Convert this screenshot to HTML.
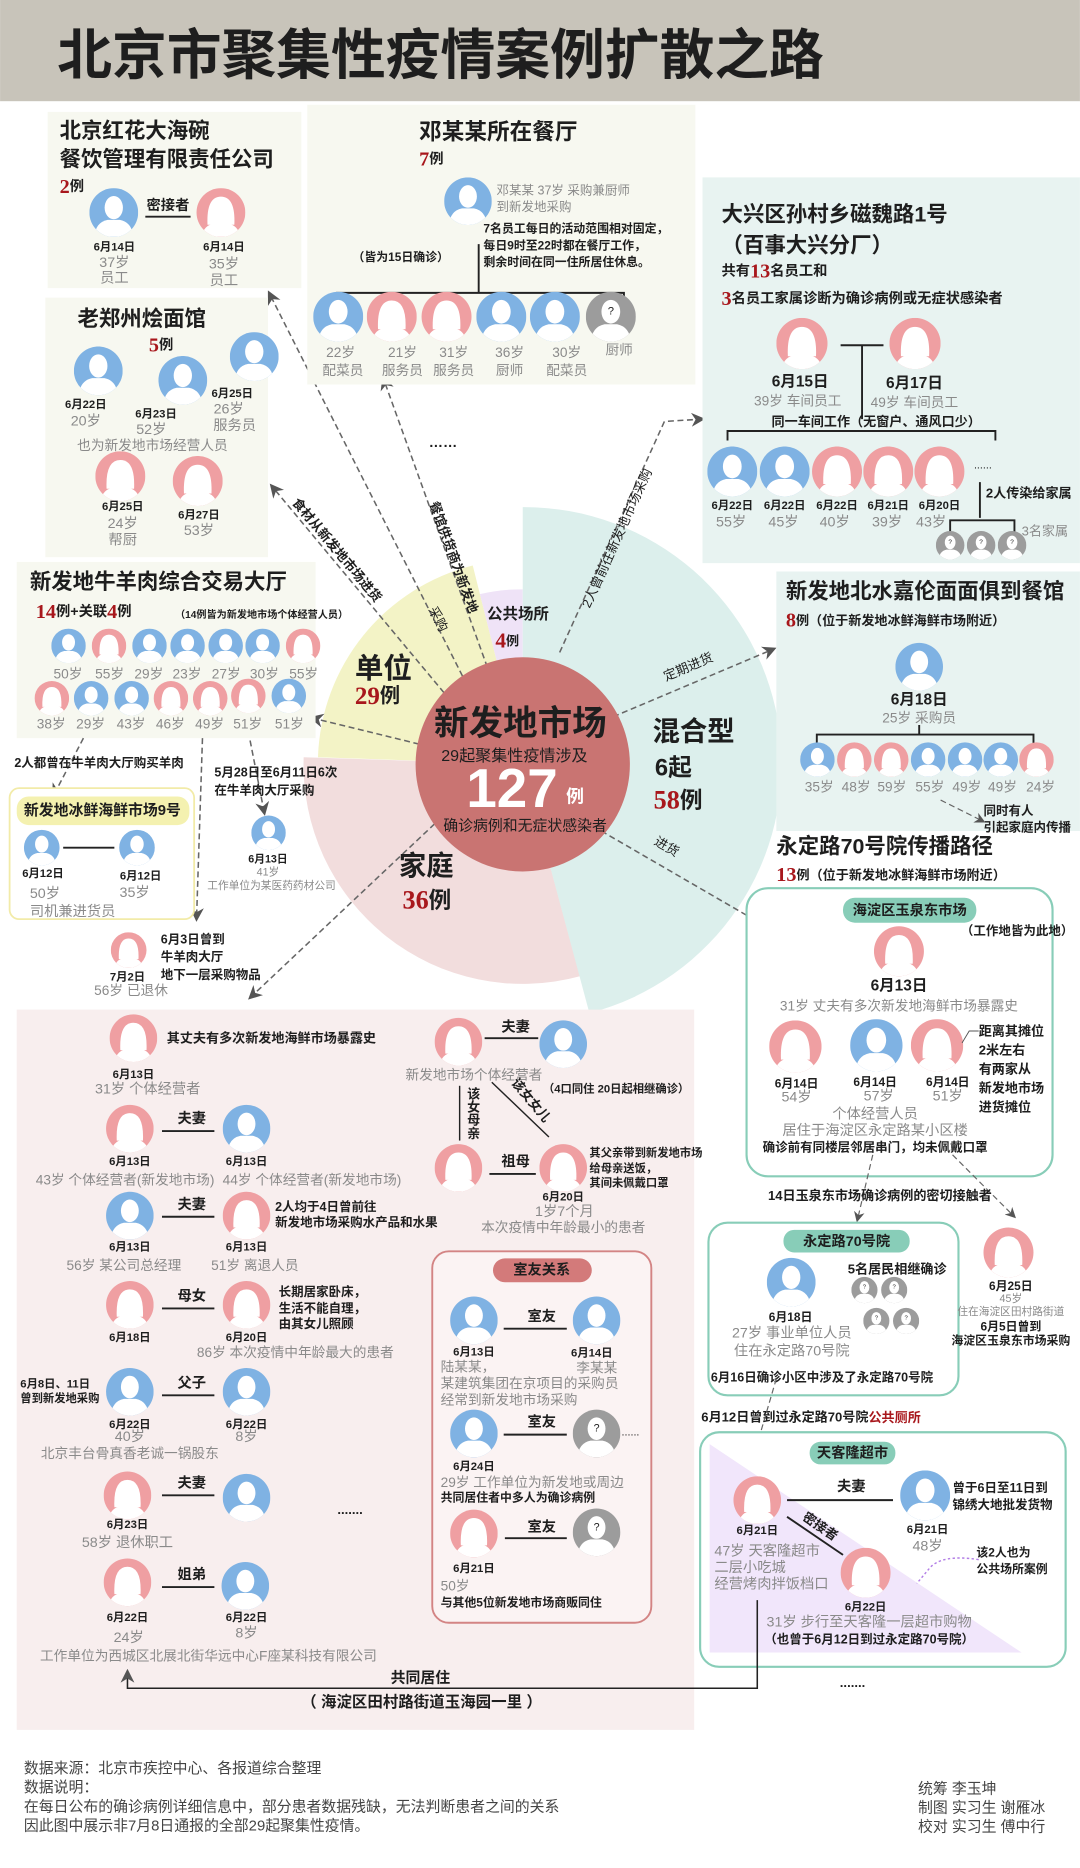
<!DOCTYPE html>
<html><head><meta charset="utf-8">
<style>
html,body{margin:0;padding:0;background:#fff;}
svg{display:block;}
text{font-family:"Liberation Sans","Noto Sans CJK SC",sans-serif;dominant-baseline:central;fill:#1e1e1e;}
.b{font-weight:bold;}
.g{fill:#8a8a8a;}
.c{text-anchor:middle;}
.r{fill:#a8171c;font-family:"Liberation Serif","Noto Serif CJK SC",serif;font-weight:bold;}
.w{fill:#fff;}
.dash{stroke:#666;stroke-width:1.3;stroke-dasharray:5,3;fill:none;}
.ln{stroke:#222;stroke-width:1.6;fill:none;}
</style></head><body>
<svg width="1080" height="1868" viewBox="0 0 907 1569" xmlns="http://www.w3.org/2000/svg">
<defs>
<clipPath id="cc"><circle cx="20" cy="20" r="20"/></clipPath>
<symbol id="m" viewBox="0 0 40 40"><circle cx="20" cy="20" r="20" fill="#7fb2e3"/><g clip-path="url(#cc)" fill="#fff"><ellipse cx="20" cy="16" rx="7.5" ry="9.5"/><path d="M4,40 Q5,28 15,26 L25,26 Q35,28 36,40Z"/></g></symbol>
<symbol id="f" viewBox="0 0 40 40"><circle cx="20" cy="20" r="20" fill="#ef9fa2"/><g clip-path="url(#cc)" fill="#fff"><path d="M9,30 Q8,7 20,7 Q32,7 31,30Z"/><path d="M4,40 Q6,30 15,29 L25,29 Q34,30 36,40Z"/></g></symbol>
<symbol id="q" viewBox="0 0 40 40"><circle cx="20" cy="20" r="20" fill="#9c9c9c"/><g clip-path="url(#cc)" fill="#fff"><ellipse cx="20" cy="16" rx="7.5" ry="9.5"/><path d="M4,40 Q5,28 15,26 L25,26 Q35,28 36,40Z"/></g><text x="20" y="16" font-size="9" text-anchor="middle" fill="#888">?</text></symbol>
<marker id="ar" viewBox="0 0 10 10" refX="8" refY="5" markerWidth="9" markerHeight="9" orient="auto-start-reverse"><path d="M0,0 L10,5 L0,10 L3,5Z" fill="#555"/></marker>
</defs>

<!-- title -->
<rect x="0" y="0" width="907" height="85" fill="#c8c4ba"/>
<text x="48" y="46" class="b" font-size="46">北京市聚集性疫情案例扩散之路</text>

<!-- pie -->
<path d="M439,642 L487,820 A184,184 0 0 1 255,636Z" fill="#f2dddd"/>
<path d="M439,642 L267,636 A172,172 0 0 1 397,475Z" fill="#f3f3c6"/>
<path d="M439,642 L403,499 A147,147 0 0 1 439,495Z" fill="#efe3f7"/>
<path d="M439,642 L439,426 A216,216 0 0 1 495,851Z" fill="#dcefec"/>

<!-- dashed arrows -->
<path class="dash" d="M378,588 L228,408" marker-end="url(#ar)"/>
<path class="dash" d="M392,575 L226,246" marker-end="url(#ar)"/>
<path class="dash" d="M412,568 L322,318" marker-end="url(#ar)"/>
<path class="dash" d="M470,548 L558,354 L590,352" marker-end="url(#ar)"/>
<path class="dash" d="M515,602 L650,545" marker-end="url(#ar)"/>
<path class="dash" d="M505,698 L655,785" marker-end="url(#ar)"/>
<path class="dash" d="M352,625 L262,603" marker-end="url(#ar)"/>
<path class="dash" d="M365,692 L210,838" marker-end="url(#ar)"/>

<circle cx="439" cy="642" r="90" fill="#c97472"/>
<text x="437" y="608" class="b c" font-size="29">新发地市场</text>
<text x="432" y="635" class="c" font-size="13.5">29起聚集性疫情涉及</text>
<text x="430" y="662" class="b c w" font-size="46">127</text>
<text x="483" y="669" class="b c w" font-size="15">例</text>
<text x="441" y="694" class="c" font-size="12.5">确诊病例和无症状感染者</text>

<text x="298" y="562" class="b" font-size="24">单位</text>
<text x="298" y="585" class="r" font-size="21">29<tspan font-size="17" fill="#1e1e1e" font-family="Liberation Sans,Noto Sans CJK SC,sans-serif">例</tspan></text>
<text x="409" y="516" class="b" font-size="13">公共场所</text>
<text x="416" y="538" class="r" font-size="18">4<tspan font-size="11" fill="#1e1e1e" font-family="Liberation Sans,Noto Sans CJK SC,sans-serif">例</tspan></text>
<text x="548" y="614" class="b" font-size="23">混合型</text>
<text x="550" y="645" class="b" font-size="20">6起</text>
<text x="549" y="672" class="r" font-size="22">58<tspan font-size="19" fill="#1e1e1e" font-family="Liberation Sans,Noto Sans CJK SC,sans-serif">例</tspan></text>
<text x="335" y="727" class="b" font-size="23">家庭</text>
<text x="338" y="756" class="r" font-size="22">36<tspan font-size="19" fill="#1e1e1e" font-family="Liberation Sans,Noto Sans CJK SC,sans-serif">例</tspan></text>

<text transform="translate(283,462) rotate(50)" class="b c" font-size="11">食材从新发地市场进货</text>
<text transform="translate(368,520) rotate(63)" class="c" font-size="11">采购</text>
<text transform="translate(381,468) rotate(70)" class="b c" font-size="11">餐馆供货商为新发地</text>
<text transform="translate(518,452) rotate(-65.6)" class="c" font-size="11">2人曾前往新发地市场采购</text>
<text transform="translate(578,560) rotate(-23)" class="c" font-size="11">定期进货</text>
<text transform="translate(560,711) rotate(30)" class="c" font-size="11">进货</text>
<text x="372" y="372" class="b c" font-size="12">……</text>

<!-- box1 -->
<rect x="40" y="94" width="213" height="148" fill="#f7f8f0"/>
<text x="50" y="110" class="b" font-size="18">北京红花大海碗</text>
<text x="50" y="134" class="b" font-size="18">餐饮管理有限责任公司</text>
<text x="50" y="157" class="r" font-size="17">2<tspan font-size="12" fill="#1e1e1e" font-family="Liberation Sans,Noto Sans CJK SC,sans-serif">例</tspan></text>
<use href="#m" x="75" y="158" width="41" height="41"/>
<use href="#f" x="165" y="158" width="41" height="41"/>
<text x="141" y="173" class="b c" font-size="12">密接者</text>
<line x1="122" y1="182" x2="160" y2="182" class="ln"/>
<text x="96" y="208" class="b c" font-size="9.5">6月14日</text><text x="96" y="221" class="g c" font-size="12">37岁</text><text x="96" y="234" class="g c" font-size="12">员工</text>
<text x="188" y="208" class="b c" font-size="9.5">6月14日</text><text x="188" y="222" class="g c" font-size="12">35岁</text><text x="188" y="236" class="g c" font-size="12">员工</text>

<!-- box2 -->
<rect x="258" y="88" width="326" height="235" fill="#f7f8f0"/>
<text x="352" y="111" class="b" font-size="19">邓某某所在餐厅</text>
<text x="352" y="134" class="r" font-size="17">7<tspan font-size="12" fill="#1e1e1e" font-family="Liberation Sans,Noto Sans CJK SC,sans-serif">例</tspan></text>
<use href="#m" x="373" y="149" width="40" height="40"/>
<text x="417" y="160" class="g" font-size="10.5">邓某某 37岁 采购兼厨师</text>
<text x="417" y="174" class="g" font-size="10.5">到新发地采购</text>
<text x="406" y="192" class="b" font-size="10">7名员工每日的活动范围相对固定，</text>
<text x="406" y="206" class="b" font-size="10">每日9时至22时都在餐厅工作，</text>
<text x="406" y="220" class="b" font-size="10">剩余时间在同一住所居住休息。</text>
<text x="296" y="216" class="b" font-size="10">（皆为15日确诊）</text>
<path class="ln" d="M402,205 L402,246 M283,256 L283,246 L524,246 L524,256"/>
<use href="#m" x="263" y="245" width="42" height="42"/>
<use href="#f" x="308" y="245" width="42" height="42"/>
<use href="#f" x="354" y="245" width="42" height="42"/>
<use href="#m" x="400" y="245" width="42" height="42"/>
<use href="#m" x="445" y="245" width="42" height="42"/>
<use href="#q" x="492" y="245" width="42" height="42"/>
<g class="g c" font-size="11.5">
<text x="286" y="296" class="g c">22岁</text><text x="338" y="296" class="g c">21岁</text><text x="381" y="296" class="g c">31岁</text><text x="428" y="296" class="g c">36岁</text><text x="476" y="296" class="g c">30岁</text><text x="520" y="294" class="g c">厨师</text>
<text x="288" y="311" class="g c">配菜员</text><text x="338" y="311" class="g c">服务员</text><text x="381" y="311" class="g c">服务员</text><text x="428" y="311" class="g c">厨师</text><text x="476" y="311" class="g c">配菜员</text>
</g>

<!-- box3 -->
<rect x="38" y="250" width="187" height="218" fill="#f7f8f0"/>
<text x="65" y="268" class="b" font-size="18">老郑州烩面馆</text>
<text x="125" y="290" class="r" font-size="17">5<tspan font-size="12" fill="#1e1e1e" font-family="Liberation Sans,Noto Sans CJK SC,sans-serif">例</tspan></text>
<use href="#m" x="62" y="291" width="41" height="41"/>
<use href="#m" x="133" y="299" width="41" height="41"/>
<use href="#m" x="193" y="279" width="41" height="41"/>
<text x="72" y="340" class="b c" font-size="9.5">6月22日</text><text x="72" y="354" class="g c" font-size="12">20岁</text>
<text x="131" y="348" class="b c" font-size="9.5">6月23日</text><text x="127" y="361" class="g c" font-size="12">52岁</text>
<text x="195" y="331" class="b c" font-size="9.5">6月25日</text><text x="192" y="344" class="g c" font-size="12">26岁</text><text x="197" y="358" class="g c" font-size="12">服务员</text>
<text x="128" y="374" class="g c" font-size="11.5">也为新发地市场经营人员</text>
<use href="#f" x="80" y="379" width="42" height="42"/>
<use href="#f" x="145" y="383" width="42" height="42"/>
<text x="103" y="426" class="b c" font-size="9.5">6月25日</text><text x="103" y="440" class="g c" font-size="12">24岁</text><text x="103" y="454" class="g c" font-size="12">帮厨</text>
<text x="167" y="433" class="b c" font-size="9.5">6月27日</text><text x="167" y="446" class="g c" font-size="12">53岁</text>

<!-- box4 -->
<rect x="590" y="149" width="317" height="324" fill="#e8f3f1"/>
<text x="606" y="180" class="b" font-size="18">大兴区孙村乡磁魏路1号</text>
<text x="606" y="206" class="b" font-size="18">（百事大兴分厂）</text>
<text x="606" y="228" class="b" font-size="12">共有<tspan class="r" font-size="17">13</tspan>名员工和</text>
<text x="606" y="251" class="b" font-size="12"><tspan class="r" font-size="17">3</tspan>名员工家属诊断为确诊病例或无症状感染者</text>
<use href="#f" x="652" y="267" width="43" height="43"/>
<use href="#f" x="747" y="267" width="43" height="43"/>
<path class="ln" d="M706,290 L742,290 M724,290 L724,352"/>
<text x="672" y="321" class="b c" font-size="13">6月15日</text><text x="670" y="337" class="g c" font-size="11.5">39岁 车间员工</text>
<text x="768" y="322" class="b c" font-size="13">6月17日</text><text x="768" y="338" class="g c" font-size="11.5">49岁 车间员工</text>
<text x="648" y="354" class="b" font-size="11">同一车间工作（无窗户、通风口少）</text>
<path class="ln" d="M611,370 L611,362 L836,362 L836,370"/>
<use href="#m" x="594" y="375" width="42" height="42"/>
<use href="#m" x="638" y="375" width="42" height="42"/>
<use href="#f" x="682" y="375" width="42" height="42"/>
<use href="#f" x="725" y="375" width="42" height="42"/>
<use href="#f" x="768" y="375" width="42" height="42"/>
<text x="818" y="391" font-size="9">......</text>
<g font-size="9.5" class="b c"><text x="615" y="425" class="b c">6月22日</text><text x="659" y="425" class="b c">6月22日</text><text x="703" y="425" class="b c">6月22日</text><text x="746" y="425" class="b c">6月21日</text><text x="789" y="425" class="b c">6月20日</text></g>
<g font-size="12"><text x="614" y="439" class="g c">55岁</text><text x="658" y="439" class="g c">45岁</text><text x="701" y="439" class="g c">40岁</text><text x="745" y="439" class="g c">39岁</text><text x="782" y="439" class="g c">43岁</text></g>
<path class="ln" d="M823,405 L823,435 M798,447 L798,437 L852,437 L852,447"/>
<text x="828" y="414" class="b" font-size="11">2人传染给家属</text>
<text x="858" y="446" class="g" font-size="11">3名家属</text>
<use href="#q" x="786" y="446" width="24" height="24"/>
<use href="#q" x="812" y="446" width="24" height="24"/>
<use href="#q" x="838" y="446" width="24" height="24"/>

<!-- box5 niuyangrou -->
<rect x="14" y="472" width="251" height="148" fill="#f7f8f0"/>
<text x="25" y="489" class="b" font-size="18">新发地牛羊肉综合交易大厅</text>
<text x="30" y="514" class="b" font-size="12"><tspan class="r" font-size="17">14</tspan>例+关联<tspan class="r" font-size="17">4</tspan>例</text>
<text x="147" y="517" class="b" font-size="8.5">（14例皆为新发地市场个体经营人员）</text>
<use href="#m" x="43" y="528" width="29" height="29"/><use href="#f" x="77" y="528" width="29" height="29"/><use href="#m" x="111" y="528" width="29" height="29"/><use href="#m" x="143" y="528" width="29" height="29"/><use href="#m" x="175" y="528" width="29" height="29"/><use href="#m" x="206" y="528" width="29" height="29"/><use href="#f" x="240" y="528" width="29" height="29"/>
<g font-size="11.5"><text x="57" y="566" class="g c">50岁</text><text x="92" y="566" class="g c">55岁</text><text x="125" y="566" class="g c">29岁</text><text x="157" y="566" class="g c">23岁</text><text x="190" y="566" class="g c">27岁</text><text x="222" y="566" class="g c">30岁</text><text x="255" y="566" class="g c">55岁</text></g>
<use href="#f" x="29" y="572" width="29" height="29"/><use href="#m" x="62" y="572" width="29" height="29"/><use href="#m" x="96" y="572" width="29" height="29"/><use href="#f" x="129" y="572" width="29" height="29"/><use href="#f" x="162" y="572" width="29" height="29"/><use href="#f" x="194" y="570" width="29" height="29"/><use href="#m" x="228" y="570" width="29" height="29"/>
<g font-size="11.5"><text x="43" y="608" class="g c">38岁</text><text x="76" y="608" class="g c">29岁</text><text x="110" y="608" class="g c">43岁</text><text x="143" y="608" class="g c">46岁</text><text x="176" y="608" class="g c">49岁</text><text x="208" y="608" class="g c">51岁</text><text x="243" y="608" class="g c">51岁</text></g>

<!-- left middle -->
<path class="dash" d="M70,620 L45,668" marker-end="url(#ar)"/>
<text x="12" y="641" class="b" font-size="10.5">2人都曾在牛羊肉大厅购买羊肉</text>
<path class="dash" d="M210,622 L222,683" marker-end="url(#ar)"/>
<path class="dash" d="M170,620 L165,772" marker-end="url(#ar)"/>
<text x="180" y="649" class="b" font-size="10.5">5月28日至6月11日6次</text>
<text x="180" y="664" class="b" font-size="10.5">在牛羊肉大厅采购</text>
<use href="#m" x="211" y="685" width="29" height="29"/>
<text x="225" y="722" class="b c" font-size="9">6月13日</text>
<text x="225" y="733" class="g c" font-size="9">41岁</text>
<text x="228" y="744" class="g c" font-size="9">工作单位为某医药药材公司</text>
<rect x="8" y="662" width="155" height="110" rx="8" fill="#fff" stroke="#f2eba8" stroke-width="1.5"/>
<rect x="14" y="669" width="145" height="24" rx="10" fill="#f4f1b0"/>
<text x="20" y="681" class="b" font-size="12.5">新发地冰鲜海鲜市场9号</text>
<use href="#m" x="20" y="695" width="30" height="34"/><use href="#m" x="100" y="695" width="30" height="34"/>
<line x1="53" y1="712" x2="96" y2="712" class="ln"/>
<text x="36" y="734" class="b c" font-size="9.5">6月12日</text><text x="25" y="751" class="g" font-size="12">50岁</text><text x="25" y="766" class="g" font-size="12">司机兼进货员</text>
<text x="118" y="736" class="b c" font-size="9.5">6月12日</text><text x="113" y="750" class="g c" font-size="12">35岁</text>
<use href="#f" x="93" y="783" width="30" height="30"/>
<text x="107" y="821" class="b c" font-size="9.5">7月2日</text>
<text x="110" y="832" class="g c" font-size="11.5">56岁 已退休</text>
<text x="135" y="789" class="b" font-size="10.5">6月3日曾到</text>
<text x="135" y="804" class="b" font-size="10.5">牛羊肉大厅</text>
<text x="135" y="819" class="b" font-size="10.5">地下一层采购物品</text>

<!-- box7 beishui -->
<rect x="652" y="480" width="255" height="218" fill="#e8f3f1"/>
<text x="660" y="497" class="b" font-size="18">新发地北水嘉伦面面俱到餐馆</text>
<text x="660" y="521" class="b" font-size="11"><tspan class="r" font-size="17">8</tspan>例（位于新发地冰鲜海鲜市场附近）</text>
<use href="#m" x="752" y="538" width="40" height="44"/>
<text x="772" y="588" class="b c" font-size="13">6月18日</text><text x="772" y="603" class="g c" font-size="11.5">25岁 采购员</text>
<path class="ln" d="M772,609 L772,617 M686,626 L686,617 L868,617 L868,626"/>
<use href="#m" x="672" y="623" width="29" height="30"/><use href="#f" x="703" y="623" width="29" height="30"/><use href="#f" x="734" y="623" width="29" height="30"/><use href="#m" x="765" y="623" width="29" height="30"/><use href="#m" x="796" y="623" width="29" height="30"/><use href="#m" x="826" y="623" width="29" height="30"/><use href="#f" x="856" y="623" width="29" height="30"/>
<g font-size="11.5"><text x="688" y="661" class="g c">35岁</text><text x="719" y="661" class="g c">48岁</text><text x="749" y="661" class="g c">59岁</text><text x="781" y="661" class="g c">55岁</text><text x="812" y="661" class="g c">49岁</text><text x="842" y="661" class="g c">49岁</text><text x="874" y="661" class="g c">24岁</text></g>
<path class="dash" d="M790,672 L826,690" marker-end="url(#ar)" style="stroke-width:1"/>
<text x="826" y="681" class="b" font-size="10.5">同时有人</text>
<text x="826" y="695" class="b" font-size="10.5">引起家庭内传播</text>

<!-- yongdinglu -->
<text x="652" y="711" class="b" font-size="18">永定路70号院传播路径</text>
<text x="652" y="735" class="b" font-size="11"><tspan class="r" font-size="17">13</tspan>例（位于新发地冰鲜海鲜市场附近）</text>
<rect x="627" y="746" width="257" height="242" rx="18" fill="#fff" stroke="#88cdb8" stroke-width="1.8"/>
<rect x="708" y="754" width="112" height="21" rx="10" fill="#88cdb8"/>
<text x="764" y="765" class="b c" font-size="12">海淀区玉泉东市场</text>
<text x="807" y="782" class="b" font-size="10.5">（工作地皆为此地）</text>
<use href="#f" x="734" y="777" width="42" height="44"/>
<text x="755" y="828" class="b c" font-size="13">6月13日</text>
<text x="755" y="845" class="g c" font-size="11.5">31岁 丈夫有多次新发地海鲜市场暴露史</text>
<use href="#f" x="646" y="857" width="44" height="44"/><use href="#m" x="714" y="856" width="44" height="44"/><use href="#f" x="765" y="856" width="44" height="44"/>
<text x="669" y="910" class="b c" font-size="10">6月14日</text><text x="669" y="922" class="g c" font-size="12">54岁</text>
<text x="735" y="909" class="b c" font-size="10">6月14日</text><text x="738" y="921" class="g c" font-size="12">57岁</text>
<text x="796" y="909" class="b c" font-size="10">6月14日</text><text x="796" y="921" class="g c" font-size="12">51岁</text>
<path d="M808,876 L814,866 L822,866" stroke="#555" fill="none" stroke-width="0.8"/>
<g class="b" font-size="11"><text x="822" y="866" class="b">距离其摊位</text><text x="822" y="882" class="b">2米左右</text><text x="822" y="898" class="b">有两家从</text><text x="822" y="914" class="b">新发地市场</text><text x="822" y="930" class="b">进货摊位</text></g>
<text x="735" y="936" class="g c" font-size="12">个体经营人员</text>
<text x="735" y="950" class="g c" font-size="12">居住于海淀区永定路某小区楼</text>
<text x="735" y="964" class="b c" font-size="10.5">确诊前有同楼层邻居串门，均未佩戴口罩</text>
<path class="dash" d="M733,970 L720,1025" marker-end="url(#ar)" style="stroke-width:1"/>
<path class="dash" d="M800,970 L852,1022" marker-end="url(#ar)" style="stroke-width:1"/>
<text x="645" y="1004" class="b" font-size="11">14日玉泉东市场确诊病例的密切接触者</text>

<rect x="595" y="1027" width="210" height="145" rx="16" fill="#fff" stroke="#88cdb8" stroke-width="1.8"/>
<rect x="658" y="1033" width="106" height="19" rx="9" fill="#88cdb8"/>
<text x="711" y="1043" class="b c" font-size="12">永定路70号院</text>
<use href="#m" x="644" y="1056" width="41" height="42"/>
<text x="712" y="1066" class="b" font-size="11">5名居民相继确诊</text>
<use href="#q" x="715" y="1072" width="22" height="23"/><use href="#q" x="740" y="1072" width="22" height="23"/><use href="#q" x="725" y="1098" width="22" height="23"/><use href="#q" x="750" y="1098" width="22" height="23"/>
<text x="664" y="1106" class="b c" font-size="10">6月18日</text>
<text x="665" y="1120" class="g c" font-size="12">27岁 事业单位人员</text>
<text x="665" y="1135" class="g c" font-size="12">住在永定路70号院</text>
<text x="597" y="1157" class="b" font-size="10.5">6月16日确诊小区中涉及了永定路70号院</text>
<use href="#f" x="826" y="1030" width="42" height="44"/>
<text x="849" y="1080" class="b c" font-size="10">6月25日</text>
<text x="849" y="1091" class="g c" font-size="9">45岁</text>
<text x="849" y="1102" class="g c" font-size="9">住在海淀区田村路街道</text>
<text x="849" y="1114" class="b c" font-size="10">6月5日曾到</text>
<text x="849" y="1126" class="b c" font-size="10">海淀区玉泉东市场采购</text>
<text x="589" y="1190" class="b" font-size="11">6月12日曾到过永定路70号院<tspan fill="#a8171c">公共厕所</tspan></text>
<path class="dash" d="M652,1158 L628,1240" marker-end="url(#ar)" style="stroke-width:1"/>

<rect x="588" y="1203" width="307" height="197" rx="16" fill="#fff" stroke="#88cdb8" stroke-width="1.8"/>
<path d="M596,1213 L858,1388 L596,1388Z" fill="#f1e6fb"/>
<rect x="680" y="1211" width="72" height="19" rx="9" fill="#88cdb8"/>
<text x="716" y="1221" class="b c" font-size="12">天客隆超市</text>
<use href="#f" x="616" y="1240" width="40" height="40"/>
<line x1="661" y1="1260" x2="750" y2="1260" class="ln"/>
<text x="715" y="1249" class="b c" font-size="12">夫妻</text>
<use href="#m" x="756" y="1235" width="42" height="42"/>
<text x="800" y="1250" class="b" font-size="10.5">曾于6日至11日到</text>
<text x="800" y="1264" class="b" font-size="10.5">锦绣大地批发货物</text>
<text x="636" y="1286" class="b c" font-size="9.5">6月21日</text>
<text x="779" y="1285" class="b c" font-size="9.5">6月21日</text>
<text x="779" y="1299" class="g c" font-size="12">48岁</text>
<text x="600" y="1303" class="g" font-size="12">47岁 天客隆超市</text>
<text x="600" y="1317" class="g" font-size="12">二层小吃城</text>
<text x="600" y="1331" class="g" font-size="12">经营烤肉拌饭档口</text>
<line x1="661" y1="1274" x2="708" y2="1306" class="ln"/>
<text transform="translate(689,1282) rotate(34)" class="b c" font-size="11">密接者</text>
<use href="#f" x="706" y="1300" width="42" height="42"/>
<text x="727" y="1350" class="b c" font-size="9.5">6月22日</text>
<text x="730" y="1363" class="g c" font-size="12">31岁 步行至天客隆一层超市购物</text>
<text x="730" y="1377" class="b c" font-size="10.5">（也曾于6月12日到过永定路70号院）</text>
<path d="M822,1310 Q790,1305 780,1318 L770,1330" stroke="#b27ee6" stroke-width="1.2" stroke-dasharray="2,2" fill="none"/>
<text x="820" y="1304" class="b" font-size="10">该2人也为</text>
<text x="820" y="1318" class="b" font-size="10">公共场所案例</text>
<text x="716" y="1413" class="b c" font-size="11">.......</text>

<!-- family box -->
<rect x="14" y="848" width="569" height="605" fill="#f8eeee"/>
<path d="M636,1344 L636,1418 L107,1418 L107,1404" class="ln" marker-end="url(#ar)" style="stroke-width:1.3"/>
<text x="353" y="1410" class="b c" font-size="12.5">共同居住</text>
<text x="354" y="1430" class="b c" font-size="13">（ 海淀区田村路街道玉海园一里 ）</text>

<use href="#f" x="92" y="851" width="40" height="42"/>
<text x="140" y="872" class="b" font-size="11">其丈夫有多次新发地海鲜市场暴露史</text>
<text x="112" y="903" class="b c" font-size="9.5">6月13日</text><text x="124" y="915" class="g c" font-size="12">31岁 个体经营者</text>

<use href="#f" x="89" y="927" width="40" height="42"/><use href="#m" x="187" y="927" width="40" height="42"/>
<text x="161" y="940" class="b c" font-size="12">夫妻</text><line x1="136" y1="950" x2="180" y2="950" class="ln"/>
<text x="109" y="976" class="b c" font-size="9.5">6月13日</text><text x="207" y="976" class="b c" font-size="9.5">6月13日</text>
<text x="105" y="991" class="g c" font-size="11.5">43岁 个体经营者(新发地市场)</text><text x="262" y="991" class="g c" font-size="11.5">44岁 个体经营者(新发地市场)</text>

<use href="#m" x="89" y="1000" width="40" height="42"/><use href="#f" x="187" y="1000" width="40" height="42"/>
<text x="161" y="1012" class="b c" font-size="12">夫妻</text><line x1="136" y1="1022" x2="180" y2="1022" class="ln"/>
<text x="231" y="1014" class="b" font-size="10.5">2人均于4日曾前往</text><text x="231" y="1027" class="b" font-size="10.5">新发地市场采购水产品和水果</text>
<text x="109" y="1048" class="b c" font-size="9.5">6月13日</text><text x="207" y="1048" class="b c" font-size="9.5">6月13日</text>
<text x="104" y="1063" class="g c" font-size="11.5">56岁 某公司总经理</text><text x="214" y="1063" class="g c" font-size="11.5">51岁 离退人员</text>

<use href="#f" x="89" y="1075" width="40" height="42"/><use href="#f" x="187" y="1075" width="40" height="42"/>
<text x="161" y="1089" class="b c" font-size="12">母女</text><line x1="136" y1="1099" x2="180" y2="1099" class="ln"/>
<text x="234" y="1085" class="b" font-size="10.5">长期居家卧床，</text><text x="234" y="1099" class="b" font-size="10.5">生活不能自理，</text><text x="234" y="1112" class="b" font-size="10.5">由其女儿照顾</text>
<text x="109" y="1124" class="b c" font-size="9.5">6月18日</text><text x="207" y="1124" class="b c" font-size="9.5">6月20日</text>
<text x="248" y="1136" class="g c" font-size="11.5">86岁 本次疫情中年龄最大的患者</text>

<use href="#m" x="89" y="1148" width="40" height="42"/><use href="#m" x="187" y="1148" width="40" height="42"/>
<text x="161" y="1162" class="b c" font-size="12">父子</text><line x1="136" y1="1172" x2="180" y2="1172" class="ln"/>
<text x="17" y="1163" class="b" font-size="9.5">6月8日、11日</text><text x="17" y="1175" class="b" font-size="9.5">曾到新发地采购</text>
<text x="109" y="1197" class="b c" font-size="9.5">6月22日</text><text x="207" y="1197" class="b c" font-size="9.5">6月22日</text>
<text x="109" y="1207" class="g c" font-size="12">40岁</text><text x="207" y="1207" class="g c" font-size="12">8岁</text>
<text x="109" y="1221" class="g c" font-size="11.5">北京丰台骨真香老诚一锅股东</text>

<use href="#f" x="87" y="1235" width="40" height="42"/><use href="#m" x="187" y="1237" width="40" height="42"/>
<text x="161" y="1246" class="b c" font-size="12">夫妻</text><line x1="136" y1="1256" x2="180" y2="1256" class="ln"/>
<text x="107" y="1281" class="b c" font-size="9.5">6月23日</text><text x="107" y="1296" class="g c" font-size="12">58岁  退休职工</text>
<text x="294" y="1268" class="b c" font-size="11">.......</text>

<use href="#f" x="87" y="1308" width="40" height="42"/><use href="#m" x="186" y="1311" width="40" height="42"/>
<text x="161" y="1323" class="b c" font-size="12">姐弟</text><line x1="136" y1="1333" x2="180" y2="1333" class="ln"/>
<text x="107" y="1359" class="b c" font-size="9.5">6月22日</text><text x="207" y="1359" class="b c" font-size="9.5">6月22日</text>
<text x="108" y="1376" class="g c" font-size="12">24岁</text><text x="207" y="1372" class="g c" font-size="12">8岁</text>
<text x="175" y="1391" class="g c" font-size="11.5">工作单位为西城区北展北街华远中心F座某科技有限公司</text>

<use href="#f" x="365" y="854" width="40" height="42"/><use href="#m" x="453" y="856" width="40" height="42"/>
<text x="433" y="863" class="b c" font-size="12">夫妻</text><line x1="407" y1="872" x2="452" y2="872" class="ln"/>
<text x="398" y="903" class="g c" font-size="11.5">新发地市场个体经营者</text>
<text x="456" y="915" class="b" font-size="9.5">（4口同住 20日起相继确诊）</text>
<line x1="386" y1="912" x2="386" y2="958" class="ln" style="stroke-width:1.2"/>
<text x="397" y="935" class="b c" font-size="11" style="writing-mode:tb">该女母亲</text>
<line x1="413" y1="909" x2="461" y2="955" class="ln" style="stroke-width:1.2"/>
<text transform="translate(446,924) rotate(50)" class="b c" font-size="11">该女女儿</text>
<use href="#f" x="365" y="960" width="40" height="42"/><use href="#f" x="453" y="960" width="40" height="42"/>
<text x="433" y="976" class="b c" font-size="12">祖母</text><line x1="411" y1="986" x2="450" y2="986" class="ln"/>
<text x="495" y="969" class="b" font-size="9.5">其父亲带到新发地市场</text><text x="495" y="982" class="b" font-size="9.5">给母亲送饭，</text><text x="495" y="994" class="b" font-size="9.5">其间未佩戴口罩</text>
<text x="473" y="1006" class="b c" font-size="9.5">6月20日</text>
<text x="474" y="1018" class="g c" font-size="12">1岁7个月</text>
<text x="473" y="1031" class="g c" font-size="11.5">本次疫情中年龄最小的患者</text>

<rect x="363" y="1051" width="184" height="312" rx="14" fill="#fbf3f3" stroke="#d38484" stroke-width="1.6"/>
<rect x="414" y="1057" width="83" height="20" rx="10" fill="#d37a7a"/>
<text x="455" y="1067" class="b c" font-size="12">室友关系</text>
<use href="#m" x="378" y="1088" width="40" height="42"/><use href="#m" x="481" y="1088" width="40" height="42"/>
<text x="455" y="1106" class="b c" font-size="12">室友</text><line x1="423" y1="1116" x2="476" y2="1116" class="ln"/>
<text x="398" y="1136" class="b c" font-size="9.5">6月13日</text><text x="497" y="1137" class="b c" font-size="9.5">6月14日</text>
<text x="370" y="1148" class="g" font-size="11.5">陆某某，</text><text x="484" y="1149" class="g" font-size="11.5">李某某</text>
<text x="370" y="1162" class="g" font-size="11.5">某建筑集团在京项目的采购员</text>
<text x="370" y="1176" class="g" font-size="11.5">经常到新发地市场采购</text>
<use href="#m" x="378" y="1183" width="40" height="42"/><use href="#q" x="481" y="1183" width="40" height="42"/>
<text x="455" y="1195" class="b c" font-size="12">室友</text><line x1="423" y1="1205" x2="476" y2="1205" class="ln"/>
<text x="522" y="1203" font-size="9">......</text>
<text x="398" y="1232" class="b c" font-size="9.5">6月24日</text>
<text x="370" y="1245" class="g" font-size="11.5">29岁 工作单位为新发地或周边</text>
<text x="370" y="1258" class="b" font-size="10">共同居住者中多人为确诊病例</text>
<use href="#f" x="378" y="1267" width="40" height="42"/><use href="#q" x="481" y="1266" width="40" height="42"/>
<text x="455" y="1283" class="b c" font-size="12">室友</text><line x1="424" y1="1292" x2="476" y2="1292" class="ln"/>
<text x="398" y="1318" class="b c" font-size="9.5">6月21日</text>
<text x="370" y="1332" class="g" font-size="11.5">50岁</text>
<text x="370" y="1346" class="b" font-size="10">与其他5位新发地市场商贩同住</text>

<!-- footer -->
<g font-size="12.5" fill="#444">
<text x="20" y="1486" style="fill:#444">数据来源：北京市疾控中心、各报道综合整理</text>
<text x="20" y="1502" style="fill:#444">数据说明：</text>
<text x="20" y="1518" style="fill:#444">在每日公布的确诊病例详细信息中，部分患者数据残缺，无法判断患者之间的关系</text>
<text x="20" y="1534" style="fill:#444">因此图中展示非7月8日通报的全部29起聚集性疫情。</text>
<text x="771" y="1503" style="fill:#444">统筹  李玉坤</text>
<text x="771" y="1519" style="fill:#444">制图  实习生 谢雁冰</text>
<text x="771" y="1535" style="fill:#444">校对  实习生 傅中行</text>
</g>
</svg>
</body></html>
